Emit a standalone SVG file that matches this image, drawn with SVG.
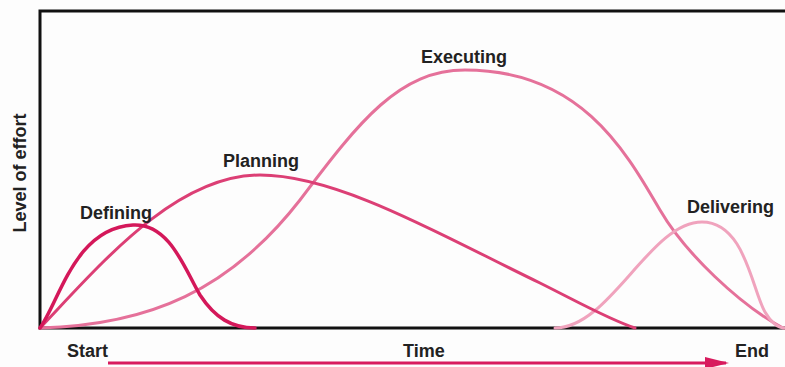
<svg xmlns="http://www.w3.org/2000/svg" width="785" height="367" viewBox="0 0 785 367">
  <style>
    .lbl { font-family: "Liberation Sans", Arial, sans-serif; font-weight: bold; font-size: 18px; fill: #222; }
    .axis { fill: none; stroke: #111; stroke-width: 3; }
    .curve { fill: none; stroke-linecap: round; }
  </style>
  <defs>
    <marker id="arrowhead" markerWidth="8" markerHeight="4" refX="7" refY="2" orient="auto" markerUnits="strokeWidth">
      <path d="M0,0 L8,2 L0,4 Z" fill="#d81b5e"/>
    </marker>
  </defs>
  <rect x="0" y="0" width="785" height="367" fill="#fdfdfd"/>

  <g id="axes">
    <path class="axis" d="M785,11 H40 V328 H785"/>
    <text class="lbl" text-anchor="middle" transform="translate(26,173) rotate(-90)">Level of effort</text>
    <text class="lbl" x="67" y="357">Start</text>
    <text class="lbl" x="403" y="357">Time</text>
    <text class="lbl" x="735" y="357">End</text>
  </g>

  <g id="executing">
    <path class="curve" stroke="#e5719a" stroke-width="3" d="M40,328 C150,325 230,290 300,200 C360,120 400,70 465,70 C580,70 625,150 660,210 C685,253 740,305 783,328"/>
    <text class="lbl" x="421" y="63">Executing</text>
  </g>

  <g id="delivering">
    <path class="curve" stroke="#f0a3bd" stroke-width="3" d="M555,328 C610,328 650,222 702,222 C745,222 752,290 765,312 C772,324 778,328 785,328"/>
    <text class="lbl" x="687" y="213">Delivering</text>
  </g>

  <g id="planning">
    <path class="curve" stroke="#dc3f75" stroke-width="3" d="M40,328 C100,265 175,175 260,175 C340,175 450,240 540,283 C580,303 610,320 635,328"/>
    <text class="lbl" x="223" y="167">Planning</text>
  </g>

  <g id="defining">
    <path class="curve" stroke="#d4185a" stroke-width="3.5" d="M40,328 C60,300 75,228 133,225 C170,223 185,270 200,295 C215,318 232,328 255,328"/>
    <text class="lbl" x="80" y="219">Defining</text>
  </g>

  <g id="connectors">
    <line x1="108" y1="363" x2="726" y2="363" stroke="#d81b5e" stroke-width="3" marker-end="url(#arrowhead)"/>
  </g>
</svg>
